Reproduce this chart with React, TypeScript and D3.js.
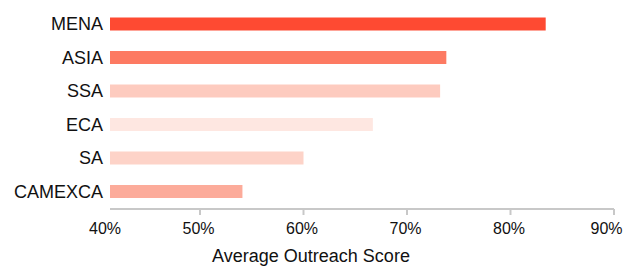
import React, { useRef, useEffect } from "react";
import * as d3 from "d3";

// regions, top to bottom
const regions = ["MENA", "ASIA", "SSA", "ECA", "SA", "CAMEXCA"];
const scores = [0.834, 0.738, 0.732, 0.667, 0.6, 0.541];
const barColors = ["#fe4a32", "#fd7a62", "#fdcbbf", "#fee7e1", "#fdd3c8", "#fcab9a"];
const tickValues = [0.4, 0.5, 0.6, 0.7, 0.8, 0.9];
const axisTitle = "Average Outreach Score";

const W = 623,
  H = 267;
const plotLeft = 110;
const font = "'Helvetica Neue', Helvetica, 'Liberation Sans', Arial, sans-serif";

const App = () => {
  const svgRef = useRef<SVGSVGElement>(null);

  useEffect(() => {
    const svg = d3.select(svgRef.current);
    svg.selectAll("*").remove();

    const x = d3.scaleLinear().domain([0.4, 0.9]).range([96.5, 614]);
    const y = d3.scalePoint().domain(regions).range([24, 191.5]);
    const barH = 13;
    const axisY = 209;

    // bars
    svg
      .append("g")
      .selectAll("rect")
      .data(regions)
      .enter()
      .append("rect")
      .attr("x", plotLeft)
      .attr("y", (d) => (y(d) as number) - barH / 2)
      .attr("width", (d, i) => x(scores[i]) - plotLeft)
      .attr("height", barH)
      .attr("fill", (d, i) => barColors[i]);

    // category labels
    svg
      .append("g")
      .selectAll("text")
      .data(regions)
      .enter()
      .append("text")
      .attr("x", 103)
      .attr("y", (d) => (y(d) as number) + 6)
      .attr("text-anchor", "end")
      .style("font-family", font)
      .style("font-size", "18px")
      .attr("fill", "#111")
      .text((d) => d);

    // x axis line + ticks
    const axis = svg.append("g");
    axis
      .append("line")
      .attr("x1", plotLeft)
      .attr("x2", x(0.9))
      .attr("y1", axisY)
      .attr("y2", axisY)
      .attr("stroke", "#c8c8c8")
      .attr("stroke-width", 2);
    axis
      .selectAll("line.tick")
      .data(tickValues.slice(1))
      .enter()
      .append("line")
      .attr("class", "tick")
      .attr("x1", (d) => x(d))
      .attr("x2", (d) => x(d))
      .attr("y1", axisY)
      .attr("y2", axisY + 6)
      .attr("stroke", "#c8c8c8")
      .attr("stroke-width", 2);

    const last = tickValues.length - 1;
    axis
      .selectAll("text")
      .data(tickValues)
      .enter()
      .append("text")
      .attr("x", (d) => x(d))
      .attr("dx", (d, i) => (i === 0 ? 8.5 : i === last ? -7.5 : -1.5))
      .attr("y", 234)
      .attr("text-anchor", "middle")
      .style("font-family", font)
      .style("font-size", "16px")
      .attr("fill", "#111")
      .text((d) => d3.format(".0%")(d));

    // axis title
    svg
      .append("text")
      .attr("x", 311)
      .attr("y", 262)
      .attr("text-anchor", "middle")
      .style("font-family", font)
      .style("font-size", "18px")
      .attr("fill", "#111")
      .text(axisTitle);
  }, []);

  return (
    <svg
      ref={svgRef}
      width={W}
      height={H}
      style={{ position: "absolute", left: 0, top: 0, background: "#fff" }}
    />
  );
};

export default App;
